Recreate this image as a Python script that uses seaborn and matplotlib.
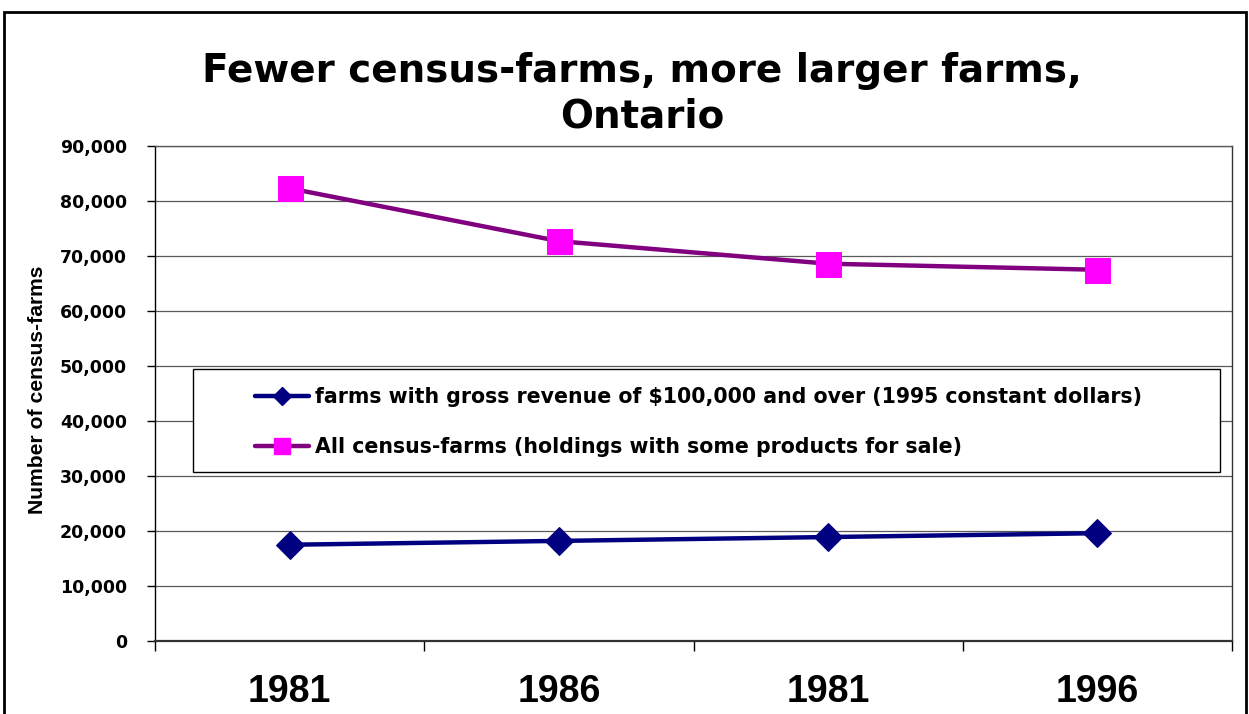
import matplotlib
matplotlib.use("Agg")
import matplotlib.pyplot as plt
import seaborn as sns
import pandas as pd
from matplotlib.lines import Line2D
from matplotlib.patches import Rectangle
from matplotlib import font_manager as fm

# ---- data ----
year_labels = ["1981", "1986", "1981", "1996"]
large_farms = [17500, 18200, 18900, 19600]
all_farms = [82300, 72700, 68600, 67500]
label_large = "farms with gross revenue of $100,000 and over (1995 constant dollars)"
label_all = "All census-farms (holdings with some products for sale)"
title = "Fewer census-farms, more larger farms,\nOntario"
ylabel = "Number of census-farms"
y_ticks = list(range(0, 90001, 10000))

sns.set_theme(style="white")
plt.rcParams['font.family'] = ['Liberation Sans', 'DejaVu Sans']
plt.rcParams['text.color'] = 'black'
plt.rcParams['xtick.color'] = 'black'
plt.rcParams['ytick.color'] = 'black'


def find_font(name, bold=True):
    for f in fm.fontManager.ttflist:
        if f.name == name:
            w = f.weight if isinstance(f.weight, int) else (700 if 'bold' in str(f.weight).lower() else 400)
            if (w >= 600) == bold and f.style == 'normal' and 'Narrow' not in f.fname:
                return f.fname
    return None


arial_b = find_font('Liberation Sans', True)


def fp(size, family='arial'):
    if family == 'arial' and arial_b:
        return fm.FontProperties(fname=arial_b, size=size)
    return fm.FontProperties(family='DejaVu Sans', weight='bold', size=size)


W, H = 1249, 714
fig = plt.figure(figsize=(W / 100, H / 100), dpi=100)
fig.patch.set_facecolor("white")

L, R, T, B = 155, 1232, 146, 641
ax = fig.add_axes([L / W, 1 - B / H, (R - L) / W, (B - T) / H])
ax.set_facecolor("white")

df = pd.DataFrame({
    "pos": list(range(len(year_labels))),
    "large": large_farms,
    "all": all_farms,
})

sns.lineplot(data=df, x="pos", y="large", ax=ax, color="#000080", linewidth=3.2,
             marker="D", markersize=14, markerfacecolor="#000080",
             markeredgecolor="#000080", legend=False)
sns.lineplot(data=df, x="pos", y="all", ax=ax, color="#800080", linewidth=3.2,
             marker="s", markersize=18, markerfacecolor="#FF00FF",
             markeredgecolor="#FF00FF", legend=False)

ax.set_xlim(-0.5, len(year_labels) - 0.5)
ax.set_ylim(0, 90000)
ax.set_yticks(y_ticks)
ax.set_yticklabels([f"{v:,}" for v in y_ticks], fontproperties=fp(12.5, 'dejavu'))
ax.set_xticks(range(len(year_labels)))
ax.set_xticklabels(year_labels, fontproperties=fp(27))
ax.set_xticks([i - 0.5 for i in range(len(year_labels) + 1)], minor=True)
ax.tick_params(axis="x", which="major", length=0, pad=24)
ax.tick_params(axis="x", which="minor", length=7, width=1, direction="out",
               color="black", bottom=True)
ax.tick_params(axis="y", which="major", length=6, width=1, direction="out",
               color="black", left=True, pad=14)
ax.set_xlabel("")
ax.set_ylabel("")
ax.grid(axis="y", color="#5a5a5a", linewidth=0.9)
ax.set_axisbelow(True)
for side, sp in ax.spines.items():
    sp.set_visible(True)
    sp.set_color("black")
    sp.set_linewidth(1.0)
ax.spines["bottom"].set_linewidth(1.6)
ax.spines["bottom"].set_color("#333333")
ax.spines["top"].set_color("#5a5a5a")
ax.spines["right"].set_color("#333333")

fig.text(38 / W, 1 - 390 / H, ylabel, rotation=90, ha="center", va="center",
         fontproperties=fp(15.2), color="black")

fig.text(642 / W, 1 - 94 / H, title, ha="center", va="center",
         fontproperties=fp(28, 'dejavu'), linespacing=1.25, color="black")

# legend box
fig.patches.append(Rectangle((193 / W, 1 - 472 / H), (1220 - 193) / W, (472 - 369) / H,
                             transform=fig.transFigure, facecolor="white",
                             edgecolor="black", linewidth=1.0, zorder=5))
handles = [
    Line2D([], [], color="#000080", linewidth=3.2, marker="D", markersize=9,
           markerfacecolor="#000080", markeredgecolor="#000080"),
    Line2D([], [], color="#800080", linewidth=3.2, marker="s", markersize=11,
           markerfacecolor="#FF00FF", markeredgecolor="#FF00FF"),
]
leg = fig.legend(handles, [label_large, label_all], loc="upper left",
                 bbox_to_anchor=(255 / W, 1 - 387 / H), frameon=False,
                 handlelength=2.65, handletextpad=0.25, borderpad=0,
                 borderaxespad=0, labelspacing=1.45,
                 prop=fp(14.8, 'dejavu'))
for t in leg.get_texts():
    t.set_color("black")
leg.set_zorder(6)

# outer frame
fig.patches.append(Rectangle((4 / W, -0.1), (1246 - 4) / W, (1 - 12 / H) + 0.1,
                             transform=fig.transFigure, facecolor="none",
                             edgecolor="black", linewidth=2.0, zorder=10))

fig.savefig("out.png", dpi=100, facecolor="white")
